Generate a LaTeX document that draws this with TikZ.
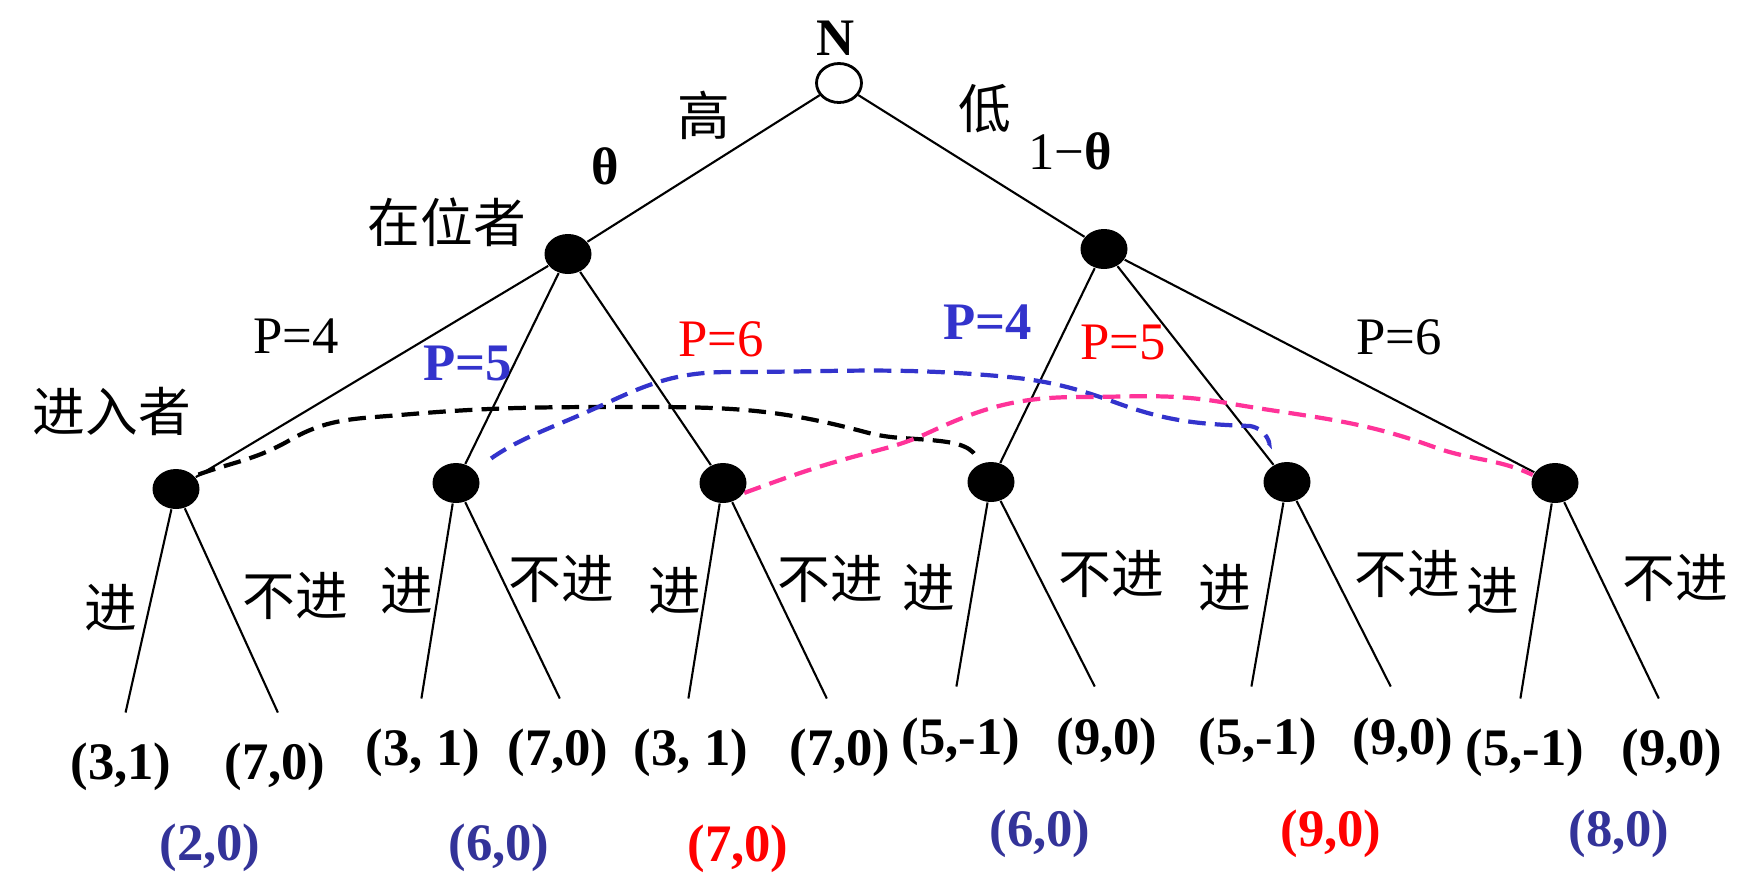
\documentclass[tikz,border=0pt]{standalone}
\usepackage{fontspec}
\setmainfont{Liberation Serif}
\newfontfamily\cjk{Noto Sans CJK SC}
\usepackage{tikz}
\usetikzlibrary{shapes}
\pgfdeclarelayer{edgelayer}
\pgfdeclarelayer{nodelayer}
\pgfsetlayers{edgelayer,nodelayer,main}
\definecolor{setblue}{RGB}{51,51,204}
\definecolor{setpink}{RGB}{255,51,153}
\definecolor{payblue}{RGB}{51,51,153}
\tikzstyle{none}=[inner sep=0pt]
\tikzstyle{chance}=[ellipse,draw=black,fill=white,line width=0.8pt,minimum width=0.45cm,minimum height=0.39cm,inner sep=0pt]
\tikzstyle{decision}=[ellipse,fill=black,minimum width=0.47cm,minimum height=0.40cm,inner sep=0pt]
\tikzstyle{txt}=[inner sep=0pt,font=\fontsize{15}{18}\selectfont]
\tikzstyle{cjktxt}=[inner sep=0pt,font=\fontsize{15}{18}\selectfont\cjk]
\tikzstyle{payoff}=[inner sep=0pt,font=\fontsize{15}{18}\selectfont\bfseries]
\tikzstyle{branch}=[-,line width=0.6pt]
\tikzstyle{infoset}=[-,dash pattern=on 5pt off 2.6pt,line width=1.2pt]

\begin{document}
\begin{tikzpicture}
	\useasboundingbox (0,0) rectangle (17.6,-8.91);
	\begin{pgfonlayer}{nodelayer}
		\node [style=chance] (N) at (8.39, -0.83) {};
		\node [style=decision] (I1) at (5.68, -2.54) {};
		\node [style=decision] (I2) at (11.04, -2.49) {};
		\node [style=decision] (E1) at (1.76, -4.89) {};
		\node [style=decision] (E2) at (4.56, -4.83) {};
		\node [style=decision] (E3) at (7.23, -4.83) {};
		\node [style=decision] (E4) at (9.91, -4.82) {};
		\node [style=decision] (E5) at (12.87, -4.82) {};
		\node [style=decision] (E6) at (15.55, -4.83) {};
		\node [style=none] (L1a) at (1.25, -7.15) {};
		\node [style=none] (L1b) at (2.79, -7.15) {};
		\node [style=none] (L2a) at (4.21, -7.01) {};
		\node [style=none] (L2b) at (5.61, -7.01) {};
		\node [style=none] (L3a) at (6.88, -7.01) {};
		\node [style=none] (L3b) at (8.28, -7.01) {};
		\node [style=none] (L4a) at (9.56, -6.89) {};
		\node [style=none] (L4b) at (10.96, -6.89) {};
		\node [style=none] (L5a) at (12.51, -6.89) {};
		\node [style=none] (L5b) at (13.92, -6.89) {};
		\node [style=none] (L6a) at (15.20, -7.01) {};
		\node [style=none] (L6b) at (16.60, -7.01) {};

		\node [style=payoff] (nature) at (8.36, -0.38) {N};
		\node [style=cjktxt] (high) at (7.04, -1.15) {高};
		\node [style=payoff] (theta) at (6.05, -1.66) {θ};
		\node [style=cjktxt] (low) at (9.85, -1.09) {低};
		\node [style=txt] (onetheta) at (10.70, -1.51) {1−\textbf{θ}};
		\node [style=cjktxt] (incumbent) at (4.47, -2.22) {在位者};
		\node [style=cjktxt] (entrant) at (1.12, -4.11) {进入者};

		\node [style=txt] (p4l) at (2.96, -3.36) {P=4};
		\node [style=payoff, text=setblue] (p5l) at (4.68, -3.63) {P=5};
		\node [style=txt, text=red] (p6l) at (7.21, -3.39) {P=6};
		\node [style=payoff, text=setblue] (p4r) at (9.88, -3.22) {P=4};
		\node [style=txt, text=red] (p5r) at (11.23, -3.42) {P=5};
		\node [style=txt] (p6r) at (13.99, -3.37) {P=6};

		\node [style=cjktxt] (in1) at (1.11, -6.08) {进};
		\node [style=cjktxt] (out1) at (2.95, -5.96) {不进};
		\node [style=cjktxt] (in2) at (4.07, -5.91) {进};
		\node [style=cjktxt] (out2) at (5.61, -5.79) {不进};
		\node [style=cjktxt] (in3) at (6.75, -5.91) {进};
		\node [style=cjktxt] (out3) at (8.30, -5.79) {不进};
		\node [style=cjktxt] (in4) at (9.29, -5.88) {进};
		\node [style=cjktxt] (out4) at (11.11, -5.74) {不进};
		\node [style=cjktxt] (in5) at (12.25, -5.88) {进};
		\node [style=cjktxt] (out5) at (14.07, -5.74) {不进};
		\node [style=cjktxt] (in6) at (14.93, -5.91) {进};
		\node [style=cjktxt] (out6) at (16.75, -5.78) {不进};

		\node [style=payoff] (u1a) at (1.21, -7.67) {(3,1)};
		\node [style=payoff] (u1b) at (2.75, -7.67) {(7,0)};
		\node [style=payoff] (u2a) at (4.23, -7.53) {(3, 1)};
		\node [style=payoff] (u2b) at (5.58, -7.53) {(7,0)};
		\node [style=payoff] (u3a) at (6.91, -7.53) {(3, 1)};
		\node [style=payoff] (u3b) at (8.40, -7.53) {(7,0)};
		\node [style=payoff] (u4a) at (9.61, -7.42) {(5,-1)};
		\node [style=payoff] (u4b) at (11.07, -7.42) {(9,0)};
		\node [style=payoff] (u5a) at (12.58, -7.42) {(5,-1)};
		\node [style=payoff] (u5b) at (14.03, -7.42) {(9,0)};
		\node [style=payoff] (u6a) at (15.25, -7.53) {(5,-1)};
		\node [style=payoff] (u6b) at (16.72, -7.53) {(9,0)};

		\node [style=payoff, text=payblue] (v1) at (2.10, -8.48) {(2,0)};
		\node [style=payoff, text=payblue] (v2) at (4.99, -8.48) {(6,0)};
		\node [style=payoff, text=red] (v3) at (7.38, -8.49) {(7,0)};
		\node [style=payoff, text=payblue] (v4) at (10.40, -8.34) {(6,0)};
		\node [style=payoff, text=red] (v5) at (13.31, -8.34) {(9,0)};
		\node [style=payoff, text=payblue] (v6) at (16.19, -8.34) {(8,0)};
	\end{pgfonlayer}
	\begin{pgfonlayer}{edgelayer}
		\draw [style=branch] (N) to (I1);
		\draw [style=branch] (N) to (I2);
		\draw [style=branch] (I1) to (E1);
		\draw [style=branch] (I1) to (E2);
		\draw [style=branch] (I1) to (E3);
		\draw [style=branch] (I2) to (E4);
		\draw [style=branch] (I2) to (E5);
		\draw [style=branch] (I2) to (E6);
		\draw [style=branch] (E1) to (L1a);
		\draw [style=branch] (E1) to (L1b);
		\draw [style=branch] (E2) to (L2a);
		\draw [style=branch] (E2) to (L2b);
		\draw [style=branch] (E3) to (L3a);
		\draw [style=branch] (E3) to (L3b);
		\draw [style=branch] (E4) to (L4a);
		\draw [style=branch] (E4) to (L4b);
		\draw [style=branch] (E5) to (L5a);
		\draw [style=branch] (E5) to (L5b);
		\draw [style=branch] (E6) to (L6a);
		\draw [style=branch] (E6) to (L6b);
		% information sets
		\draw [style=infoset, draw=black, shorten <=0.04cm, shorten >=0.08cm] (E1.35) to[out=20,in=210] (2.9,-4.40) to[out=30,in=185] (4.0,-4.15) to[out=5,in=180] (6.5,-4.07) to[out=0,in=165] (8.65,-4.32) to[out=-15,in=175] (9.3,-4.40) to[out=-5,in=120] (E4);
		\draw [style=infoset, draw=setblue, shorten <=0.2cm, shorten >=0.22cm] (E2) to[out=35,in=205] (6.09,-4.02) to[out=25,in=180] (7.3,-3.72) to[out=0,in=175] (9.98,-3.76) to[out=-5,in=160] (11.17,-4.03) to[out=-20,in=178] (12.5,-4.26) to[out=-10,in=115] (E5);
		\draw [style=infoset, draw=setpink] (E3.-25) to[out=20,in=195] (8.6,-4.55) to[out=15,in=205] (9.3,-4.32) to[out=25,in=180] (10.8,-3.97) to[out=0,in=170] (12.27,-4.03) to[out=-10,in=160] (14.34,-4.47) to[out=-20,in=155] (E6.160);
	\end{pgfonlayer}
\end{tikzpicture}
\end{document}
